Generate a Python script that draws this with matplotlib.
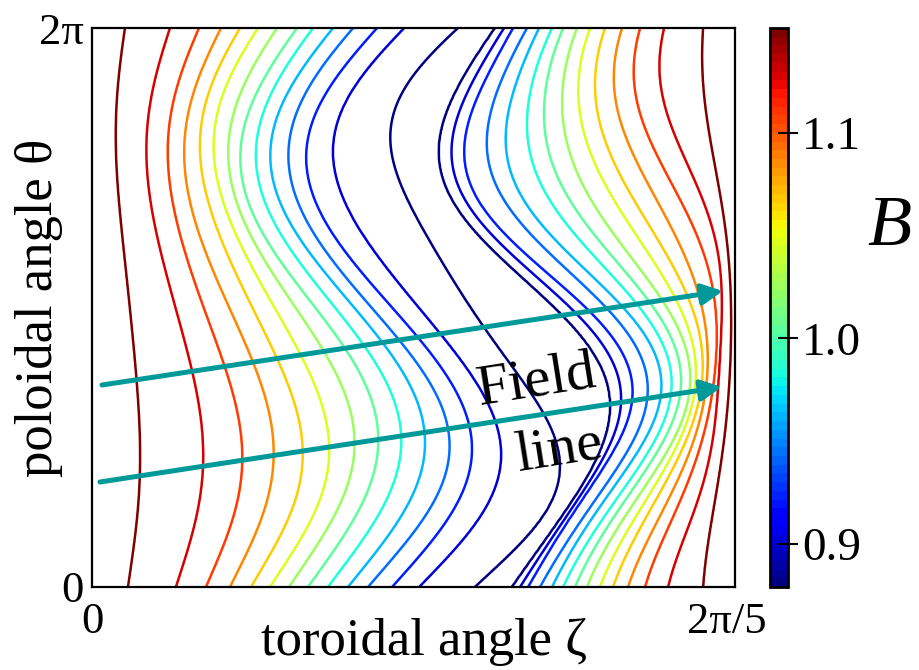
import numpy as np
import matplotlib
matplotlib.use('Agg')
import matplotlib.pyplot as plt
from matplotlib import colors, cm
from matplotlib.transforms import ScaledTranslation

plt.rcParams['font.family'] = ['Liberation Serif', 'DejaVu Serif']

# contour levels of B (colour bar runs from the lowest to the highest)
levels = np.linspace(0.879, 1.151, 14)

# where the contours cross a few rows of theta.
# theta in units of 2pi, zeta in units of the field period 2pi/5
theta_left = [1.0, 0.8354, 0.5492, 0.4240, 0.2129, 0.0]
zeta_left = [  # left flank, levels L14 ... L1
    [0.0513, 0.1213, 0.1664, 0.2006, 0.2302, 0.2582, 0.2877, 0.3188, 0.3437, 0.3748, 0.4059, 0.4432, 0.4852, 0.5692],
    [0.0373, 0.0871, 0.1213, 0.1477, 0.1711, 0.1928, 0.2177, 0.2395, 0.2628, 0.2862, 0.3142, 0.3437, 0.3826, 0.4666],
    [0.0544, 0.1182, 0.1586, 0.1944, 0.2286, 0.2597, 0.2877, 0.3142, 0.3437, 0.3717, 0.3981, 0.4292, 0.4728, 0.5614],
    [0.0653, 0.1477, 0.1975, 0.2426, 0.2815, 0.3204, 0.3593, 0.3950, 0.4277, 0.4603, 0.4899, 0.5226, 0.5614, 0.6345],
    [0.0747, 0.1726, 0.2333, 0.2815, 0.3266, 0.3670, 0.4044, 0.4401, 0.4759, 0.5132, 0.5521, 0.5879, 0.6345, 0.7278],
    [0.0560, 0.1306, 0.1773, 0.2146, 0.2473, 0.2768, 0.3064, 0.3359, 0.3670, 0.3981, 0.4292, 0.4666, 0.5086, 0.5956],
]
theta_right = [1.0, 0.8354, 0.5492, 0.3345, 0.2129, 0.0]
right_index = [0, 2, 3, 4, 5, 6, 7, 8, 9, 10, 11, 12, 13]
zeta_right = [  # right flank, levels L1, L3 ... L14
    [0.6267, 0.6547, 0.6765, 0.6952, 0.7154, 0.7325, 0.7543, 0.7745, 0.7978, 0.8243, 0.8523, 0.8896, 0.9502],
    [0.5474, 0.5863, 0.6174, 0.6454, 0.6765, 0.7030, 0.7325, 0.7605, 0.7885, 0.8212, 0.8554, 0.8974, 0.9565],
    [0.6734, 0.7201, 0.7558, 0.7838, 0.8149, 0.8398, 0.8647, 0.8911, 0.9145, 0.9362, 0.9627, 0.9782, 0.9922],
    [0.8056, 0.8398, 0.8631, 0.8834, 0.8989, 0.9129, 0.9269, 0.9347, 0.9440, 0.9518, 0.9627, 0.9720, 0.9891],
    [0.7776, 0.7947, 0.8165, 0.8320, 0.8491, 0.8631, 0.8787, 0.8911, 0.9036, 0.9191, 0.9347, 0.9565, 0.9767],
    [0.6532, 0.6781, 0.6967, 0.7154, 0.7325, 0.7512, 0.7698, 0.7900, 0.8103, 0.8336, 0.8600, 0.8958, 0.9502],
]
B_edge = levels[-1] + 0.012
B_min = levels[0] - 0.012

# field lines (zeta, theta) start -> end
line_start = [(0.0195, 2.2705), (0.0156, 1.180)]
line_end = [(1.233, 3.327), (1.231, 2.248)]


def harmonics(t):
    t = np.asarray(t, dtype=float)
    a = 2 * np.pi * t
    return np.column_stack([np.ones_like(a), np.cos(a), np.sin(a), np.cos(2 * a), np.sin(2 * a), t - 0.5])


def smooth_fit(t_rows, z_rows, t_out):
    # smooth each contour through the rows that were read
    M = harmonics(t_rows)
    reg = np.diag([0, 0, 0, 1e-3, 1e-3, 1e-3])
    coef = np.linalg.solve(M.T @ M + reg, M.T @ np.asarray(z_rows))
    return harmonics(t_out) @ coef


nt, nz = 361, 700
t_grid = np.linspace(0, 1, nt)
u_grid = np.linspace(0, 1, nz)
left = smooth_fit(theta_left, zeta_left, t_grid)      # L14 ... L1
right = smooth_fit(theta_right, zeta_right, t_grid)   # L1, L3 ... L14

B = np.empty((nt, nz))
for i in range(nt):
    xl = left[i]
    xr = right[i]
    mid = 0.5 * (xl[-1] + xr[0])
    nodes = np.concatenate([[0.0], xl, [mid], xr, [1.0]])
    vals = np.concatenate([[B_edge], levels[::-1], [B_min], levels[right_index], [B_edge]])
    nodes = np.maximum.accumulate(nodes + np.arange(len(nodes)) * 1e-6)
    B[i] = np.interp(u_grid, nodes, vals)

Z, T = np.meshgrid(u_grid * 2 * np.pi / 5, t_grid * 2 * np.pi)

fig = plt.figure(figsize=(9.2, 6.7), dpi=100)
ax = fig.add_axes([0.1, 0.1239, 0.699, 0.8343])
norm = colors.Normalize(vmin=levels[0], vmax=levels[-1])
ax.contour(Z, T, B, levels=levels, cmap='jet', norm=norm, linewidths=1.8)
ax.set_xlim(0, 2 * np.pi / 5)
ax.set_ylim(0, 2 * np.pi)
for s in ax.spines.values():
    s.set_linewidth(1.6)
ax.set_xticks([0, 2 * np.pi / 5])
ax.set_xticklabels(['0', '2π/5'])
ax.set_yticks([0, 2 * np.pi])
ax.set_yticklabels(['0', '2π'])
ax.tick_params(axis='x', length=0, pad=11, labelsize=32)
ax.tick_params(axis='y', length=0, pad=6, labelsize=32)
lab = ax.get_xticklabels()[1]
lab.set_transform(lab.get_transform() + ScaledTranslation(-8 / 100, 0, fig.dpi_scale_trans))
ax.set_xlabel('toroidal angle ζ', fontsize=38)
ax.set_ylabel('poloidal angle θ', fontsize=38)
ax.xaxis.set_label_coords(0.516, -0.055)
ax.yaxis.set_label_coords(-0.045, 0.5)

arrow = dict(arrowstyle='-|>,head_length=0.5,head_width=0.25', color='#009999', lw=3.6,
             mutation_scale=25, shrinkA=0, shrinkB=0)
for s0, s1 in zip(line_start, line_end):
    ax.annotate('', xy=s1, xytext=s0, arrowprops=arrow)
ax.text(0.868, 2.316, 'Field', fontsize=42, rotation=9, ha='center', va='center')
ax.text(0.915, 1.540, 'line', fontsize=42, rotation=9, ha='center', va='center')

cax = fig.add_axes([0.837, 0.1239, 0.0196, 0.8343])
cb = fig.colorbar(cm.ScalarMappable(norm=norm, cmap=plt.get_cmap('jet', 64)), cax=cax, ticks=[0.9, 1.0, 1.1])
cb.ax.set_yticklabels(['0.9', '1.0', '1.1'])
cb.outline.set_linewidth(2)
cb.ax.tick_params(direction='inout', length=14, width=1.5, pad=3, labelsize=34)
fig.text(0.967, 0.66, 'B', style='italic', fontsize=52, ha='center', va='center')

fig.savefig('out.png', dpi=100)
